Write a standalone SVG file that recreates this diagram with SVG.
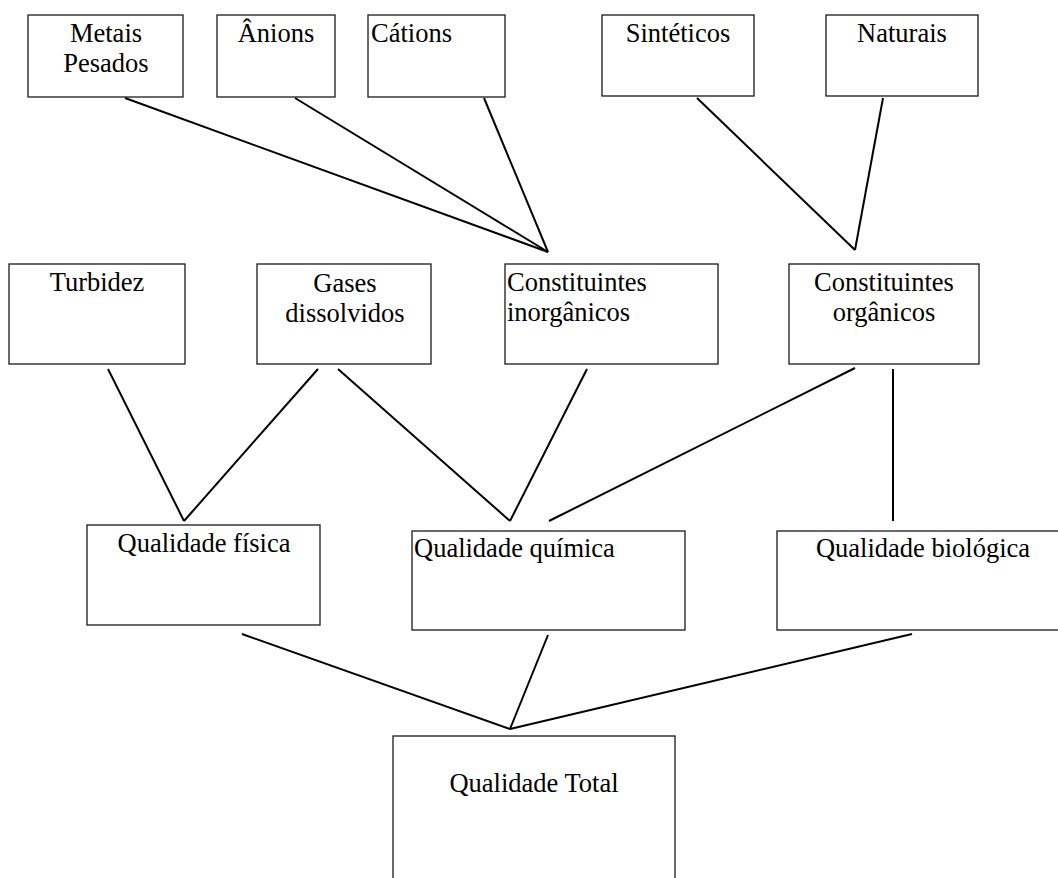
<svg xmlns="http://www.w3.org/2000/svg" width="1058" height="878" viewBox="0 0 1058 878">
<style>
.box{fill:#fff;stroke:#1a1a1a;stroke-width:1.3}
.t{font-family:"Liberation Serif","Times New Roman",serif;font-size:26.5px;fill:#000}
.c{text-anchor:middle}
.ln{stroke:#000;stroke-width:2;fill:none}
</style>
<rect width="1058" height="878" fill="#fff"/>
<g id="connectors">
<line class="ln" x1="125" y1="98" x2="548" y2="252"/>
<line class="ln" x1="295" y1="98" x2="548" y2="252"/>
<line class="ln" x1="484" y1="98" x2="548" y2="252"/>
<line class="ln" x1="697" y1="98" x2="855" y2="250"/>
<line class="ln" x1="883" y1="98" x2="855" y2="250"/>
<line class="ln" x1="108" y1="369" x2="184" y2="521"/>
<line class="ln" x1="318" y1="369" x2="184" y2="521"/>
<line class="ln" x1="338" y1="369" x2="510" y2="521"/>
<line class="ln" x1="587" y1="369" x2="510" y2="521"/>
<line class="ln" x1="855" y1="368" x2="549" y2="521"/>
<line class="ln" x1="893" y1="369" x2="893" y2="521"/>
<line class="ln" x1="242" y1="634" x2="510" y2="729"/>
<line class="ln" x1="548" y1="635" x2="510" y2="729"/>
<line class="ln" x1="912" y1="634" x2="510" y2="729"/>
</g>
<g id="metais"><rect class="box" x="28" y="15" width="155" height="82"/><text class="t c" x="106" y="42">Metais</text><text class="t c" x="106" y="72">Pesados</text></g>
<g id="anions"><rect class="box" x="217" y="15" width="118" height="82"/><text class="t c" x="276" y="42">Ânions</text></g>
<g id="cations"><rect class="box" x="368" y="15" width="137" height="82"/><text class="t" x="371" y="42">Cátions</text></g>
<g id="sinteticos"><rect class="box" x="602" y="15" width="152" height="81"/><text class="t c" x="678" y="42">Sintéticos</text></g>
<g id="naturais"><rect class="box" x="826" y="15" width="152" height="81"/><text class="t c" x="902" y="42">Naturais</text></g>
<g id="turbidez"><rect class="box" x="9" y="264" width="176" height="100"/><text class="t c" x="97" y="291">Turbidez</text></g>
<g id="gases"><rect class="box" x="257" y="264" width="174" height="100"/><text class="t c" x="345" y="292">Gases</text><text class="t c" x="345" y="322">dissolvidos</text></g>
<g id="inorganicos"><rect class="box" x="505" y="264" width="213" height="100"/><text class="t" x="507" y="291">Constituintes</text><text class="t" x="507" y="321">inorgânicos</text></g>
<g id="organicos"><rect class="box" x="789" y="264" width="190" height="100"/><text class="t c" x="884" y="291">Constituintes</text><text class="t c" x="884" y="321">orgânicos</text></g>
<g id="fisica"><rect class="box" x="87" y="525" width="233" height="100"/><text class="t c" x="204" y="552">Qualidade física</text></g>
<g id="quimica"><rect class="box" x="412" y="531" width="273" height="99"/><text class="t" x="414" y="557">Qualidade química</text></g>
<g id="biologica"><rect class="box" x="777" y="531" width="292" height="99"/><text class="t c" x="923" y="557">Qualidade biológica</text></g>
<g id="total"><rect class="box" x="393" y="736" width="282" height="160"/><text class="t c" x="534" y="792">Qualidade Total</text></g>
</svg>
